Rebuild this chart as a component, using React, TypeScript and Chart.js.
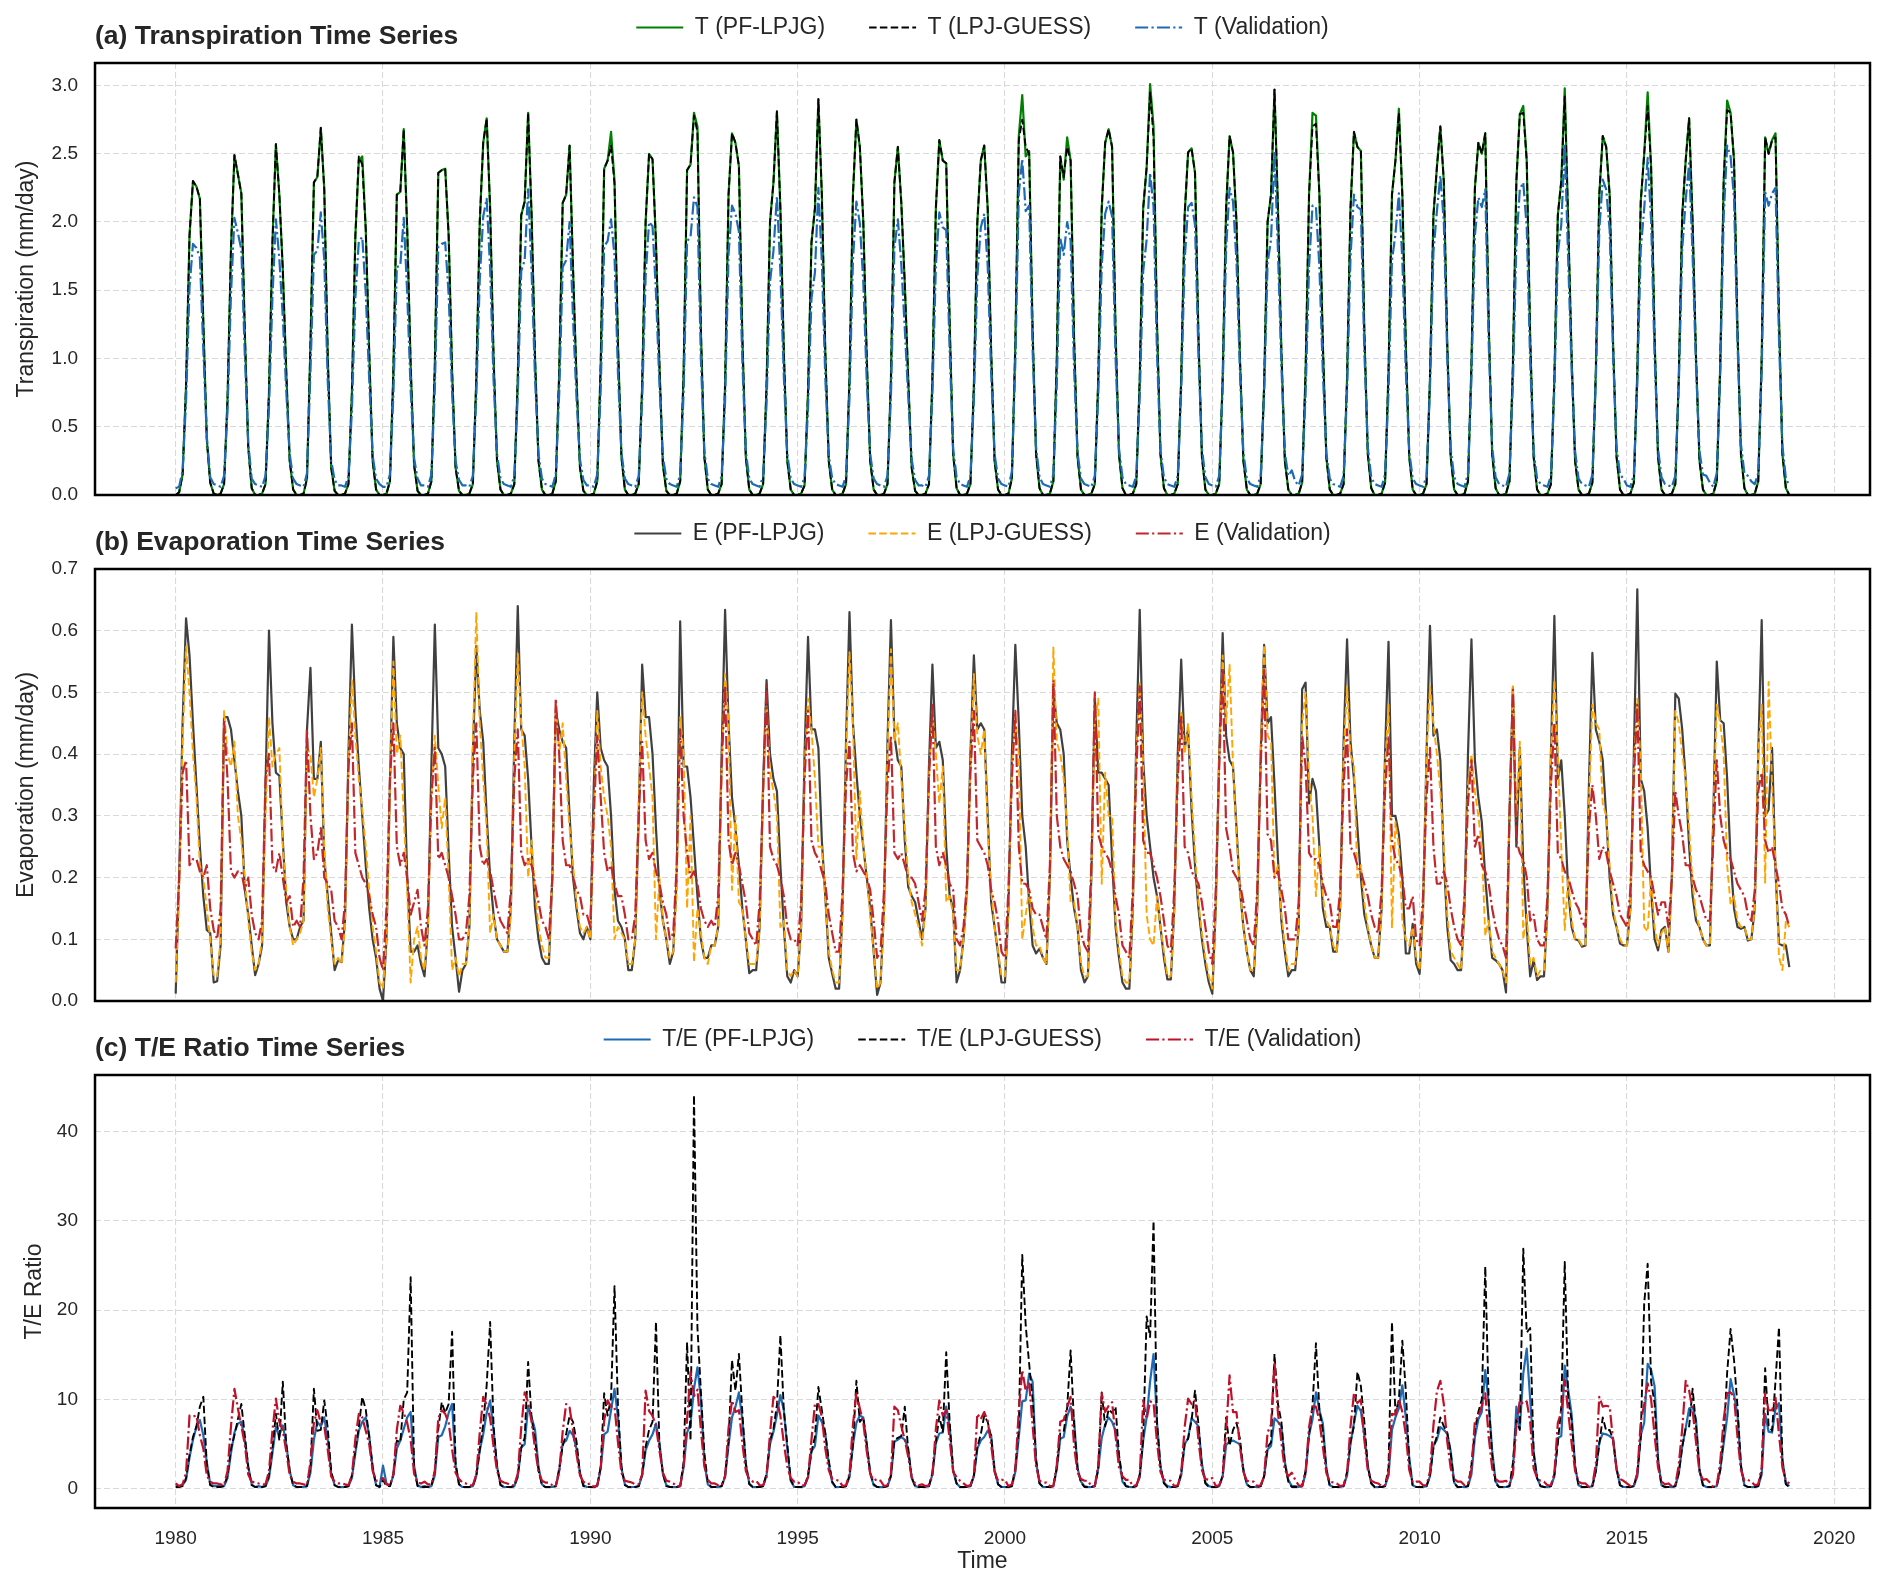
import React, { useEffect, useRef } from 'react';
import { Chart, registerables } from 'chart.js';

Chart.register(...registerables);

const FONT = '"Liberation Sans", Arial, Helvetica, sans-serif';
const TEXT = '#262626';
const GRID = '#d9d9d9';

const firstYear = 1980;
const yearTicks = [1980, 1985, 1990, 1995, 2000, 2005, 2010, 2015, 2020];
const tTicks = [0, 0.5, 1.0, 1.5, 2.0, 2.5, 3.0];
const eTicks = [0, 0.1, 0.2, 0.3, 0.4, 0.5, 0.6, 0.7];
const teTicks = [0, 10, 20, 30, 40];

// Monthly values, one row per year (Jan..Dec), 1980..2018
const tPF = [
  [0.00,0.02,0.15,0.80,1.90,2.30,2.26,2.17,1.26,0.41,0.09,0.01], // 1980
  [0.00,0.01,0.08,0.70,1.80,2.49,2.35,2.21,1.20,0.35,0.05,0.00],
  [0.00,0.01,0.08,0.75,1.85,2.57,2.20,1.65,0.90,0.25,0.04,0.00],
  [0.00,0.01,0.12,1.10,2.29,2.33,2.69,2.24,1.02,0.20,0.03,0.00],
  [0.00,0.01,0.08,0.75,1.90,2.45,2.48,1.95,1.05,0.25,0.04,0.00],
  [0.00,0.01,0.10,0.90,2.20,2.22,2.68,1.95,0.95,0.22,0.03,0.00], // 1985
  [0.00,0.01,0.10,0.95,2.36,2.38,2.39,1.90,0.90,0.20,0.03,0.00],
  [0.00,0.01,0.08,0.85,2.00,2.58,2.76,2.10,1.00,0.25,0.04,0.00],
  [0.00,0.01,0.08,0.85,2.05,2.15,2.80,2.05,1.00,0.25,0.04,0.00],
  [0.00,0.01,0.10,0.90,2.14,2.20,2.56,1.65,0.85,0.20,0.03,0.00],
  [0.00,0.01,0.10,0.95,2.39,2.45,2.66,2.30,1.10,0.28,0.04,0.00], // 1990
  [0.00,0.01,0.08,0.80,2.00,2.50,2.46,1.85,0.95,0.22,0.03,0.00],
  [0.00,0.01,0.10,0.90,2.38,2.42,2.80,2.70,1.20,0.28,0.04,0.00],
  [0.00,0.01,0.08,0.80,2.20,2.65,2.58,2.41,1.15,0.28,0.04,0.00],
  [0.00,0.01,0.08,0.80,2.00,2.29,2.81,2.10,1.05,0.25,0.04,0.00],
  [0.00,0.01,0.07,0.75,1.85,2.10,2.90,2.20,1.05,0.25,0.04,0.00], // 1995
  [0.00,0.01,0.08,0.85,2.20,2.75,2.55,2.00,1.00,0.25,0.04,0.00],
  [0.00,0.01,0.08,0.85,2.29,2.55,2.14,1.55,0.85,0.20,0.03,0.00],
  [0.00,0.01,0.08,0.85,2.10,2.60,2.45,2.43,1.25,0.30,0.05,0.00],
  [0.00,0.01,0.08,0.80,2.00,2.45,2.56,2.10,1.05,0.25,0.04,0.00],
  [0.00,0.01,0.12,1.10,2.63,2.93,2.48,2.52,1.20,0.30,0.05,0.00], // 2000
  [0.00,0.01,0.10,1.00,2.48,2.31,2.62,2.45,1.15,0.28,0.04,0.00],
  [0.00,0.01,0.08,0.85,2.10,2.58,2.68,2.55,1.20,0.30,0.05,0.00],
  [0.00,0.01,0.08,0.85,2.10,2.40,3.01,2.70,1.25,0.30,0.05,0.00],
  [0.00,0.01,0.08,0.85,2.05,2.51,2.54,2.36,1.15,0.28,0.04,0.00],
  [0.00,0.01,0.08,0.85,2.10,2.63,2.51,2.00,1.00,0.25,0.04,0.00], // 2005
  [0.00,0.01,0.08,0.80,2.00,2.20,2.97,2.10,1.05,0.25,0.04,0.00],
  [0.00,0.01,0.09,0.90,2.20,2.80,2.78,2.20,1.10,0.28,0.04,0.00],
  [0.00,0.01,0.08,0.85,2.10,2.66,2.55,2.52,1.20,0.30,0.05,0.00],
  [0.00,0.01,0.09,0.90,2.20,2.45,2.83,2.20,1.10,0.28,0.04,0.00],
  [0.00,0.01,0.08,0.85,2.05,2.40,2.70,2.30,1.10,0.28,0.04,0.00], // 2010
  [0.00,0.01,0.10,0.95,2.25,2.58,2.50,2.65,1.25,0.30,0.05,0.00],
  [0.00,0.01,0.10,0.95,2.30,2.79,2.85,2.45,1.15,0.28,0.04,0.00],
  [0.00,0.01,0.08,0.85,2.05,2.30,2.98,2.00,1.00,0.25,0.04,0.00],
  [0.00,0.01,0.09,0.90,2.20,2.63,2.55,2.20,1.10,0.28,0.04,0.00],
  [0.00,0.01,0.09,0.90,2.15,2.50,2.95,2.40,1.15,0.28,0.04,0.00], // 2015
  [0.00,0.01,0.08,0.85,2.05,2.45,2.76,2.00,1.00,0.25,0.04,0.00],
  [0.00,0.01,0.10,0.95,2.30,2.89,2.80,2.45,1.20,0.30,0.05,0.00],
  [0.00,0.01,0.10,1.00,2.62,2.50,2.60,2.65,1.30,0.30,0.05,0.00], // 2018
];

const tLPJ = [
  [0.00,0.02,0.15,0.80,1.90,2.30,2.26,2.17,1.26,0.41,0.09,0.01], // 1980
  [0.00,0.01,0.08,0.70,1.80,2.49,2.35,2.21,1.20,0.35,0.05,0.00],
  [0.00,0.01,0.08,0.75,1.85,2.57,2.20,1.65,0.90,0.25,0.04,0.00],
  [0.00,0.01,0.12,1.10,2.29,2.33,2.69,2.24,1.02,0.20,0.03,0.00],
  [0.00,0.01,0.08,0.75,1.90,2.48,2.42,1.95,1.05,0.25,0.04,0.00],
  [0.00,0.01,0.10,0.90,2.20,2.22,2.68,1.95,0.95,0.22,0.03,0.00], // 1985
  [0.00,0.01,0.10,0.95,2.36,2.38,2.39,1.90,0.90,0.20,0.03,0.00],
  [0.00,0.01,0.08,0.85,2.00,2.58,2.76,2.10,1.00,0.25,0.04,0.00],
  [0.00,0.01,0.08,0.85,2.05,2.15,2.80,2.05,1.00,0.25,0.04,0.00],
  [0.00,0.01,0.10,0.90,2.14,2.20,2.56,1.65,0.85,0.20,0.03,0.00],
  [0.00,0.01,0.10,0.95,2.39,2.45,2.56,2.28,1.10,0.28,0.04,0.00], // 1990
  [0.00,0.01,0.08,0.80,2.00,2.50,2.46,1.85,0.95,0.22,0.03,0.00],
  [0.00,0.01,0.10,0.90,2.38,2.42,2.78,2.66,1.20,0.28,0.04,0.00],
  [0.00,0.01,0.08,0.80,2.20,2.65,2.58,2.41,1.15,0.28,0.04,0.00],
  [0.00,0.01,0.08,0.80,2.00,2.29,2.81,2.10,1.05,0.25,0.04,0.00],
  [0.00,0.01,0.07,0.75,1.85,2.10,2.90,2.20,1.05,0.25,0.04,0.00], // 1995
  [0.00,0.01,0.08,0.85,2.20,2.75,2.55,2.00,1.00,0.25,0.04,0.00],
  [0.00,0.01,0.08,0.85,2.29,2.55,2.14,1.55,0.85,0.20,0.03,0.00],
  [0.00,0.01,0.08,0.85,2.10,2.60,2.45,2.43,1.25,0.30,0.05,0.00],
  [0.00,0.01,0.08,0.80,2.00,2.45,2.56,2.10,1.05,0.25,0.04,0.00],
  [0.00,0.01,0.12,1.10,2.60,2.75,2.55,2.50,1.20,0.30,0.05,0.00], // 2000
  [0.00,0.01,0.10,1.00,2.48,2.33,2.55,2.45,1.15,0.28,0.04,0.00],
  [0.00,0.01,0.08,0.85,2.10,2.58,2.68,2.55,1.20,0.30,0.05,0.00],
  [0.00,0.01,0.08,0.85,2.10,2.40,2.95,2.62,1.25,0.30,0.05,0.00],
  [0.00,0.01,0.08,0.85,2.05,2.51,2.54,2.36,1.15,0.28,0.04,0.00],
  [0.00,0.01,0.08,0.85,2.10,2.63,2.51,2.00,1.00,0.25,0.04,0.00], // 2005
  [0.00,0.01,0.08,0.80,2.00,2.20,2.97,2.10,1.05,0.25,0.04,0.00],
  [0.00,0.01,0.09,0.90,2.20,2.70,2.72,2.20,1.10,0.28,0.04,0.00],
  [0.00,0.01,0.08,0.85,2.10,2.66,2.55,2.52,1.20,0.30,0.05,0.00],
  [0.00,0.01,0.09,0.90,2.20,2.45,2.80,2.20,1.10,0.28,0.04,0.00],
  [0.00,0.01,0.08,0.85,2.05,2.40,2.70,2.30,1.10,0.28,0.04,0.00], // 2010
  [0.00,0.01,0.10,0.95,2.25,2.58,2.50,2.65,1.25,0.30,0.05,0.00],
  [0.00,0.01,0.10,0.95,2.30,2.79,2.80,2.45,1.15,0.28,0.04,0.00],
  [0.00,0.01,0.08,0.85,2.05,2.30,2.92,2.00,1.00,0.25,0.04,0.00],
  [0.00,0.01,0.09,0.90,2.20,2.63,2.55,2.20,1.10,0.28,0.04,0.00],
  [0.00,0.01,0.09,0.90,2.15,2.50,2.85,2.40,1.15,0.28,0.04,0.00], // 2015
  [0.00,0.01,0.08,0.85,2.05,2.45,2.76,2.00,1.00,0.25,0.04,0.00],
  [0.00,0.01,0.10,0.95,2.30,2.82,2.80,2.45,1.20,0.30,0.05,0.00],
  [0.00,0.01,0.10,1.00,2.62,2.50,2.60,2.62,1.30,0.30,0.05,0.00], // 2018
];

const tVal = [
  [0.05,0.06,0.18,0.69,1.52,1.84,1.81,1.74,1.06,0.43,0.13,0.08], // 1980
  [0.07,0.06,0.14,0.62,1.47,2.03,1.92,1.80,1.03,0.38,0.12,0.08],
  [0.07,0.06,0.14,0.64,1.45,2.02,1.73,1.30,0.76,0.30,0.12,0.08],
  [0.07,0.06,0.16,0.90,1.76,1.79,2.07,1.72,0.84,0.25,0.11,0.07],
  [0.07,0.06,0.14,0.62,1.45,1.86,1.89,1.48,0.85,0.29,0.12,0.08],
  [0.06,0.06,0.15,0.73,1.67,1.68,2.03,1.48,0.77,0.27,0.12,0.07], // 1985
  [0.07,0.06,0.15,0.78,1.82,1.84,1.85,1.47,0.74,0.25,0.11,0.07],
  [0.07,0.06,0.14,0.72,1.58,2.04,2.17,1.66,0.84,0.30,0.12,0.08],
  [0.07,0.06,0.14,0.73,1.64,1.72,2.24,1.64,0.85,0.30,0.12,0.08],
  [0.07,0.06,0.15,0.75,1.67,1.72,2.00,1.29,0.71,0.26,0.11,0.07],
  [0.07,0.06,0.15,0.77,1.82,1.86,2.02,1.75,0.89,0.31,0.12,0.08], // 1990
  [0.07,0.06,0.14,0.69,1.60,2.00,1.97,1.48,0.81,0.28,0.12,0.08],
  [0.07,0.06,0.15,0.75,1.86,1.89,2.18,2.11,0.99,0.32,0.12,0.08],
  [0.07,0.06,0.14,0.69,1.76,2.12,2.06,1.93,0.97,0.32,0.12,0.08],
  [0.07,0.06,0.14,0.67,1.56,1.79,2.19,1.64,0.87,0.30,0.12,0.08],
  [0.07,0.06,0.13,0.63,1.44,1.63,2.25,1.71,0.86,0.29,0.12,0.08], // 1995
  [0.07,0.06,0.14,0.71,1.72,2.15,1.99,1.56,0.83,0.30,0.12,0.08],
  [0.07,0.06,0.14,0.72,1.81,2.02,1.69,1.22,0.72,0.26,0.11,0.07],
  [0.07,0.06,0.14,0.73,1.68,2.07,1.96,1.94,1.05,0.34,0.13,0.08],
  [0.07,0.06,0.14,0.69,1.60,1.96,2.06,1.68,0.89,0.30,0.12,0.08],
  [0.07,0.06,0.17,0.97,2.21,2.46,2.08,2.12,1.06,0.35,0.13,0.08], // 2000
  [0.07,0.06,0.15,0.81,1.88,1.76,2.00,1.86,0.92,0.31,0.12,0.08],
  [0.07,0.06,0.14,0.73,1.68,2.06,2.15,2.04,1.01,0.34,0.13,0.08],
  [0.07,0.06,0.14,0.72,1.64,1.87,2.36,2.11,1.03,0.33,0.13,0.08],
  [0.07,0.06,0.14,0.76,1.72,2.11,2.14,1.98,1.02,0.34,0.13,0.08],
  [0.07,0.06,0.14,0.78,1.80,2.25,2.15,1.71,0.90,0.31,0.12,0.08], // 2005
  [0.07,0.06,0.14,0.73,1.70,1.87,2.52,1.79,0.94,0.31,0.14,0.18],
  [0.10,0.07,0.15,0.73,1.67,2.12,2.11,1.67,0.89,0.31,0.12,0.08],
  [0.07,0.06,0.14,0.76,1.74,2.20,2.11,2.09,1.05,0.35,0.13,0.08],
  [0.07,0.06,0.15,0.75,1.72,1.91,2.21,1.72,0.91,0.32,0.12,0.08],
  [0.07,0.06,0.14,0.79,1.78,2.08,2.34,2.00,1.01,0.34,0.13,0.08], // 2010
  [0.07,0.06,0.16,0.85,1.90,2.18,2.11,2.24,1.11,0.35,0.13,0.08],
  [0.07,0.06,0.16,0.81,1.84,2.24,2.29,1.96,0.97,0.32,0.12,0.08],
  [0.07,0.06,0.14,0.78,1.77,1.98,2.57,1.72,0.91,0.32,0.12,0.08],
  [0.07,0.06,0.15,0.84,1.94,2.31,2.24,1.94,1.02,0.35,0.15,0.12],
  [0.07,0.06,0.15,0.81,1.80,2.10,2.47,2.01,1.02,0.34,0.13,0.08], // 2015
  [0.07,0.06,0.14,0.80,1.80,2.16,2.43,1.76,0.93,0.32,0.15,0.14],
  [0.09,0.06,0.16,0.89,2.04,2.56,2.48,2.17,1.11,0.37,0.16,0.14],
  [0.10,0.08,0.16,0.90,2.22,2.12,2.21,2.25,1.15,0.36,0.12,0.07], // 2018
];

const ePF = [
  [0.012,0.20,0.45,0.62,0.56,0.45,0.35,0.25,0.17,0.115,0.11,0.03], // 1980
  [0.032,0.09,0.46,0.46,0.44,0.39,0.34,0.30,0.18,0.14,0.09,0.042],
  [0.06,0.09,0.35,0.60,0.45,0.37,0.365,0.26,0.16,0.12,0.10,0.10],
  [0.12,0.13,0.44,0.54,0.36,0.36,0.42,0.23,0.17,0.11,0.05,0.066],
  [0.063,0.13,0.40,0.61,0.47,0.38,0.30,0.22,0.15,0.10,0.07,0.02],
  [0.00,0.10,0.35,0.59,0.45,0.41,0.40,0.20,0.08,0.08,0.09,0.06], // 1985
  [0.04,0.12,0.38,0.61,0.41,0.40,0.38,0.24,0.12,0.07,0.015,0.05],
  [0.06,0.12,0.40,0.575,0.47,0.42,0.30,0.20,0.14,0.10,0.09,0.08],
  [0.08,0.15,0.42,0.64,0.44,0.43,0.36,0.25,0.15,0.10,0.07,0.06],
  [0.06,0.20,0.47,0.44,0.42,0.41,0.30,0.20,0.15,0.11,0.10,0.12],
  [0.10,0.35,0.50,0.41,0.39,0.38,0.30,0.18,0.13,0.12,0.10,0.05], // 1990
  [0.05,0.10,0.30,0.545,0.46,0.46,0.40,0.28,0.18,0.13,0.10,0.06],
  [0.08,0.20,0.615,0.38,0.38,0.33,0.25,0.17,0.10,0.07,0.07,0.09],
  [0.09,0.12,0.40,0.634,0.45,0.33,0.28,0.22,0.15,0.10,0.045,0.05],
  [0.05,0.12,0.35,0.52,0.40,0.36,0.34,0.22,0.12,0.04,0.03,0.05],
  [0.04,0.12,0.40,0.59,0.44,0.44,0.41,0.26,0.17,0.07,0.044,0.02], // 1995
  [0.02,0.15,0.42,0.63,0.45,0.37,0.30,0.25,0.20,0.15,0.08,0.01],
  [0.03,0.15,0.42,0.617,0.43,0.39,0.38,0.26,0.185,0.17,0.16,0.13],
  [0.10,0.15,0.38,0.545,0.41,0.42,0.39,0.25,0.17,0.15,0.03,0.05],
  [0.10,0.18,0.40,0.56,0.44,0.45,0.44,0.30,0.16,0.12,0.077,0.03],
  [0.03,0.15,0.40,0.577,0.45,0.30,0.25,0.16,0.09,0.077,0.085,0.07], // 2000
  [0.06,0.20,0.506,0.45,0.44,0.40,0.26,0.20,0.15,0.12,0.05,0.03],
  [0.04,0.20,0.49,0.37,0.37,0.36,0.35,0.23,0.12,0.07,0.03,0.02],
  [0.02,0.15,0.42,0.634,0.39,0.30,0.25,0.20,0.17,0.12,0.07,0.035],
  [0.035,0.15,0.40,0.553,0.41,0.44,0.31,0.22,0.15,0.10,0.06,0.03],
  [0.012,0.15,0.40,0.596,0.43,0.39,0.38,0.28,0.18,0.12,0.08,0.05], // 2005
  [0.04,0.15,0.40,0.577,0.45,0.46,0.35,0.23,0.13,0.08,0.04,0.05],
  [0.05,0.12,0.505,0.516,0.32,0.36,0.34,0.25,0.15,0.12,0.12,0.08],
  [0.08,0.15,0.42,0.586,0.42,0.36,0.28,0.20,0.14,0.115,0.09,0.07],
  [0.07,0.15,0.40,0.582,0.30,0.30,0.27,0.20,0.077,0.077,0.125,0.06],
  [0.044,0.15,0.40,0.608,0.43,0.44,0.39,0.23,0.12,0.066,0.06,0.05], // 2010
  [0.05,0.15,0.40,0.586,0.39,0.33,0.29,0.20,0.13,0.07,0.066,0.06],
  [0.05,0.014,0.30,0.508,0.25,0.41,0.22,0.12,0.04,0.066,0.034,0.04],
  [0.04,0.15,0.40,0.624,0.36,0.39,0.30,0.18,0.12,0.10,0.098,0.088],
  [0.09,0.35,0.564,0.44,0.42,0.39,0.30,0.20,0.14,0.12,0.093,0.09],
  [0.09,0.15,0.40,0.667,0.36,0.34,0.28,0.18,0.10,0.082,0.115,0.12], // 2015
  [0.08,0.20,0.498,0.49,0.44,0.36,0.25,0.17,0.13,0.12,0.10,0.09],
  [0.09,0.30,0.55,0.455,0.45,0.36,0.23,0.15,0.12,0.117,0.12,0.098],
  [0.10,0.15,0.40,0.617,0.30,0.31,0.41,0.21,0.093,0.09,0.09,0.055], // 2018
];

const eLPJ = [
  [0.03,0.18,0.42,0.574,0.50,0.40,0.33,0.22,0.20,0.15,0.10,0.04], // 1980
  [0.04,0.10,0.47,0.40,0.38,0.42,0.30,0.26,0.20,0.13,0.08,0.05],
  [0.06,0.10,0.30,0.46,0.38,0.40,0.41,0.25,0.18,0.12,0.09,0.10],
  [0.11,0.13,0.41,0.40,0.33,0.36,0.41,0.25,0.15,0.10,0.06,0.07],
  [0.06,0.12,0.38,0.52,0.43,0.36,0.31,0.25,0.18,0.12,0.08,0.03],
  [0.02,0.10,0.34,0.55,0.40,0.43,0.30,0.18,0.03,0.10,0.12,0.07], // 1985
  [0.05,0.12,0.33,0.43,0.35,0.28,0.33,0.20,0.05,0.07,0.04,0.06],
  [0.06,0.12,0.42,0.63,0.45,0.36,0.28,0.11,0.14,0.10,0.09,0.08],
  [0.08,0.14,0.40,0.563,0.45,0.38,0.20,0.26,0.18,0.12,0.09,0.07],
  [0.07,0.20,0.48,0.40,0.45,0.36,0.28,0.22,0.16,0.12,0.11,0.12],
  [0.10,0.30,0.47,0.38,0.33,0.30,0.25,0.10,0.12,0.11,0.10,0.06], // 1990
  [0.06,0.10,0.32,0.50,0.43,0.38,0.33,0.10,0.20,0.13,0.10,0.07],
  [0.08,0.18,0.46,0.40,0.15,0.30,0.063,0.15,0.11,0.07,0.06,0.09],
  [0.09,0.12,0.38,0.53,0.45,0.18,0.30,0.16,0.15,0.10,0.06,0.06],
  [0.06,0.12,0.34,0.48,0.37,0.34,0.30,0.12,0.13,0.05,0.04,0.05],
  [0.04,0.12,0.38,0.49,0.44,0.36,0.25,0.25,0.17,0.08,0.05,0.03], // 1995
  [0.03,0.14,0.40,0.565,0.45,0.23,0.34,0.25,0.20,0.14,0.08,0.02],
  [0.03,0.14,0.40,0.57,0.42,0.45,0.36,0.28,0.20,0.16,0.14,0.12],
  [0.09,0.15,0.36,0.47,0.40,0.32,0.38,0.16,0.17,0.14,0.05,0.05],
  [0.10,0.17,0.38,0.53,0.43,0.40,0.44,0.28,0.18,0.12,0.08,0.04],
  [0.04,0.15,0.38,0.46,0.40,0.10,0.14,0.18,0.12,0.09,0.09,0.07], // 2000
  [0.06,0.20,0.573,0.42,0.40,0.36,0.28,0.16,0.16,0.12,0.06,0.04],
  [0.04,0.20,0.45,0.49,0.19,0.37,0.30,0.30,0.13,0.08,0.04,0.03],
  [0.03,0.15,0.40,0.515,0.38,0.14,0.10,0.09,0.17,0.12,0.08,0.04],
  [0.04,0.15,0.38,0.47,0.40,0.45,0.33,0.24,0.16,0.11,0.07,0.04],
  [0.02,0.15,0.40,0.56,0.45,0.545,0.38,0.27,0.18,0.12,0.08,0.05], // 2005
  [0.05,0.15,0.40,0.577,0.43,0.42,0.20,0.22,0.14,0.09,0.05,0.06],
  [0.06,0.12,0.45,0.50,0.36,0.30,0.17,0.25,0.17,0.13,0.12,0.09],
  [0.08,0.15,0.40,0.51,0.40,0.38,0.20,0.22,0.16,0.12,0.09,0.07],
  [0.07,0.15,0.38,0.48,0.118,0.29,0.25,0.13,0.10,0.09,0.12,0.07],
  [0.05,0.15,0.40,0.51,0.45,0.40,0.34,0.25,0.14,0.08,0.07,0.06], // 2010
  [0.05,0.15,0.35,0.40,0.34,0.30,0.25,0.106,0.13,0.08,0.07,0.06],
  [0.05,0.03,0.30,0.51,0.30,0.42,0.10,0.14,0.06,0.07,0.04,0.05],
  [0.05,0.15,0.40,0.52,0.40,0.25,0.115,0.20,0.13,0.10,0.10,0.09],
  [0.09,0.32,0.48,0.45,0.44,0.32,0.30,0.22,0.15,0.12,0.10,0.09],
  [0.09,0.15,0.38,0.49,0.38,0.12,0.113,0.20,0.12,0.09,0.11,0.12], // 2015
  [0.08,0.20,0.47,0.45,0.40,0.36,0.28,0.19,0.14,0.12,0.10,0.09],
  [0.09,0.30,0.48,0.45,0.40,0.22,0.156,0.17,0.13,0.12,0.12,0.10],
  [0.10,0.15,0.40,0.48,0.19,0.517,0.35,0.22,0.072,0.05,0.13,0.12], // 2018
];

const eVal = [
  [0.085,0.20,0.37,0.39,0.22,0.23,0.23,0.21,0.20,0.22,0.15,0.115], // 1980
  [0.10,0.15,0.455,0.36,0.21,0.20,0.21,0.21,0.18,0.20,0.14,0.11],
  [0.10,0.13,0.36,0.40,0.22,0.21,0.24,0.20,0.16,0.17,0.12,0.13],
  [0.12,0.20,0.44,0.30,0.23,0.24,0.28,0.20,0.19,0.18,0.13,0.12],
  [0.10,0.16,0.38,0.45,0.24,0.22,0.20,0.19,0.17,0.14,0.12,0.07],
  [0.05,0.15,0.36,0.45,0.25,0.22,0.24,0.20,0.14,0.16,0.18,0.12], // 1985
  [0.09,0.15,0.33,0.41,0.23,0.24,0.22,0.20,0.17,0.14,0.10,0.10],
  [0.11,0.17,0.36,0.45,0.25,0.22,0.23,0.21,0.18,0.15,0.13,0.12],
  [0.11,0.18,0.36,0.44,0.24,0.22,0.23,0.22,0.19,0.16,0.13,0.12],
  [0.10,0.20,0.49,0.40,0.26,0.22,0.22,0.20,0.18,0.17,0.14,0.14],
  [0.12,0.30,0.43,0.33,0.24,0.21,0.22,0.19,0.17,0.17,0.14,0.10], // 1990
  [0.10,0.14,0.30,0.42,0.26,0.23,0.24,0.21,0.19,0.16,0.14,0.10],
  [0.11,0.22,0.44,0.30,0.24,0.20,0.21,0.19,0.15,0.13,0.12,0.13],
  [0.12,0.17,0.38,0.51,0.26,0.22,0.24,0.22,0.19,0.16,0.11,0.10],
  [0.09,0.16,0.34,0.51,0.25,0.23,0.22,0.20,0.17,0.12,0.10,0.10],
  [0.09,0.16,0.36,0.47,0.26,0.24,0.23,0.21,0.19,0.14,0.11,0.08], // 1995
  [0.08,0.18,0.35,0.42,0.24,0.21,0.22,0.21,0.20,0.18,0.13,0.07],
  [0.08,0.18,0.35,0.43,0.24,0.23,0.24,0.22,0.20,0.20,0.19,0.16],
  [0.13,0.18,0.36,0.48,0.25,0.22,0.24,0.22,0.19,0.18,0.10,0.09],
  [0.12,0.19,0.37,0.47,0.26,0.25,0.24,0.22,0.18,0.16,0.13,0.08],
  [0.07,0.18,0.36,0.47,0.25,0.19,0.19,0.18,0.15,0.14,0.14,0.12], // 2000
  [0.10,0.22,0.52,0.30,0.25,0.23,0.22,0.21,0.19,0.17,0.11,0.09],
  [0.08,0.22,0.50,0.27,0.25,0.24,0.23,0.21,0.17,0.14,0.09,0.08],
  [0.07,0.18,0.37,0.51,0.26,0.24,0.24,0.22,0.20,0.17,0.13,0.09],
  [0.08,0.18,0.36,0.46,0.25,0.24,0.21,0.20,0.19,0.16,0.12,0.08],
  [0.06,0.18,0.38,0.54,0.28,0.25,0.21,0.20,0.19,0.16,0.13,0.10], // 2005
  [0.09,0.18,0.38,0.536,0.27,0.26,0.20,0.21,0.18,0.15,0.10,0.10],
  [0.10,0.16,0.43,0.38,0.24,0.23,0.23,0.22,0.19,0.17,0.16,0.12],
  [0.12,0.18,0.35,0.44,0.25,0.24,0.22,0.21,0.19,0.17,0.14,0.12],
  [0.11,0.18,0.34,0.43,0.26,0.23,0.22,0.20,0.15,0.15,0.17,0.10],
  [0.09,0.17,0.33,0.41,0.25,0.19,0.19,0.21,0.19,0.15,0.12,0.10], // 2010
  [0.09,0.17,0.32,0.39,0.25,0.27,0.22,0.21,0.19,0.15,0.12,0.10],
  [0.09,0.07,0.30,0.504,0.26,0.24,0.23,0.20,0.13,0.14,0.10,0.09],
  [0.09,0.17,0.35,0.45,0.24,0.23,0.21,0.20,0.18,0.16,0.15,0.13],
  [0.12,0.28,0.35,0.30,0.23,0.25,0.24,0.21,0.19,0.17,0.14,0.13],
  [0.12,0.18,0.36,0.48,0.24,0.22,0.21,0.20,0.17,0.14,0.16,0.16], // 2015
  [0.12,0.20,0.34,0.30,0.27,0.22,0.22,0.20,0.18,0.17,0.15,0.13],
  [0.13,0.26,0.39,0.30,0.26,0.24,0.23,0.21,0.19,0.18,0.17,0.14],
  [0.13,0.18,0.34,0.37,0.26,0.24,0.25,0.22,0.19,0.15,0.14,0.12], // 2018
];

const tePF = [
  [0.3,0.3,0.4,1.0,3.5,5.5,6.9,7.7,6.0,3.0,0.5,0.3], // 1980
  [0.3,0.3,0.3,1.2,4.0,6.3,7.3,7.5,5.5,2.5,0.5,0.2],
  [0.3,0.2,0.3,1.2,4.0,6.9,6.0,7.1,5.0,2.0,0.4,0.2],
  [0.2,0.2,0.3,1.8,5.5,7.5,7.0,8.0,5.5,1.8,0.4,0.2],
  [0.2,0.2,0.3,1.2,4.0,6.5,7.5,8.0,6.0,2.3,0.4,0.2],
  [2.6,0.6,0.3,1.5,4.5,5.4,6.7,8.0,8.6,2.6,0.4,0.2], // 1985
  [0.3,0.2,0.3,1.5,5.8,6.0,7.0,8.5,9.5,2.6,0.5,0.2],
  [0.2,0.2,0.3,1.5,4.3,6.1,8.5,9.9,6.5,2.5,0.5,0.2],
  [0.2,0.2,0.3,1.3,4.6,5.0,9.3,8.0,6.6,2.5,0.5,0.2],
  [0.2,0.2,0.3,2.0,5.1,5.4,6.5,6.0,4.5,1.8,0.4,0.2],
  [0.2,0.2,0.3,2.3,6.1,6.4,8.8,11.2,8.0,2.3,0.5,0.2], // 1990
  [0.2,0.2,0.3,1.5,4.3,5.4,6.1,7.3,5.2,1.7,0.4,0.2],
  [0.2,0.2,0.3,2.4,6.3,7.3,11.2,13.6,10.0,3.0,0.5,0.2],
  [0.2,0.2,0.3,1.3,4.9,8.0,9.2,10.8,7.7,2.8,0.6,0.2],
  [0.2,0.2,0.3,1.5,5.0,6.4,8.3,10.5,8.8,4.5,0.9,0.2],
  [0.2,0.2,0.3,1.3,4.2,4.8,8.2,7.5,6.2,2.8,0.7,0.2], // 1995
  [0.2,0.2,0.3,1.3,4.9,7.4,8.2,8.0,5.0,1.7,0.4,0.2],
  [0.2,0.2,0.3,1.4,5.3,5.5,5.8,5.5,4.5,1.2,0.3,0.2],
  [0.2,0.2,0.3,1.6,5.1,6.2,6.3,9.2,7.0,2.0,0.6,0.2],
  [0.2,0.2,0.3,1.4,4.5,5.4,5.8,6.5,6.0,2.0,0.5,0.2],
  [0.2,0.2,0.3,1.9,5.8,9.8,9.9,12.9,12.0,3.0,0.6,0.2], // 2000
  [0.2,0.2,0.3,2.2,5.6,5.8,8.1,9.2,7.7,2.3,0.8,0.3],
  [0.2,0.2,0.3,2.3,5.7,7.2,8.0,7.5,6.5,3.5,0.8,0.3],
  [0.2,0.2,0.3,1.3,5.4,8.0,12.0,15.1,7.4,2.5,0.7,0.3],
  [0.2,0.2,0.3,1.5,5.0,5.7,7.9,7.5,7.0,2.8,0.7,0.3],
  [0.2,0.2,0.3,1.4,4.9,5.3,5.4,5.2,5.0,2.1,0.5,0.2], // 2005
  [0.2,0.2,0.3,1.4,4.4,4.8,7.9,7.5,7.0,3.0,1.0,0.3],
  [0.3,0.2,0.3,1.7,6.0,7.8,10.8,8.8,7.3,2.3,0.4,0.2],
  [0.2,0.2,0.3,1.5,5.0,7.4,9.3,8.7,6.0,2.6,0.6,0.2],
  [0.2,0.2,0.3,1.5,6.6,8.0,9.0,11.6,8.0,3.5,0.4,0.2],
  [0.2,0.2,0.3,1.4,4.8,5.5,6.9,6.6,6.2,4.2,0.7,0.2], // 2010
  [0.2,0.2,0.3,1.6,5.8,7.8,8.6,13.3,9.6,4.3,0.8,0.2],
  [0.2,0.2,0.3,1.9,9.2,6.8,12.9,15.7,10.0,4.2,1.2,0.3],
  [0.2,0.2,0.3,1.4,5.7,5.9,13.8,11.1,8.3,2.5,0.4,0.2],
  [0.2,0.2,0.3,2.0,5.2,6.2,6.1,5.9,5.6,2.3,0.4,0.2],
  [0.2,0.2,0.3,1.4,6.0,7.4,14.0,13.3,11.5,3.4,0.4,0.2], // 2015
  [0.2,0.2,0.3,1.7,4.7,6.8,9.0,9.2,7.7,2.1,0.4,0.2],
  [0.2,0.2,0.3,2.1,5.1,8.0,12.3,10.5,8.3,2.6,0.4,0.2],
  [0.2,0.2,0.3,1.6,8.4,6.4,6.3,9.0,9.6,3.3,0.6,0.3], // 2018
];

const teLPJ = [
  [0.2,0.2,0.3,1.2,3.8,5.8,7.0,9.2,10.3,2.7,0.4,0.2], // 1980
  [0.2,0.2,0.3,1.5,4.5,6.0,7.8,9.5,6.0,2.4,0.4,0.2],
  [0.2,0.2,0.3,1.5,4.5,8.4,5.4,12.0,5.0,2.0,0.4,0.2],
  [0.2,0.2,0.3,2.3,11.2,6.5,6.6,9.9,6.8,2.0,0.4,0.2],
  [0.2,0.2,0.3,1.5,4.4,6.9,10.3,8.9,5.8,2.5,0.4,0.2],
  [1.0,0.3,0.3,1.6,5.4,5.2,10.0,10.8,23.7,2.2,0.3,0.2], // 1985
  [0.2,0.2,0.3,2.0,6.7,9.7,8.5,9.5,17.6,2.9,0.5,0.2],
  [0.2,0.2,0.3,1.4,4.4,7.2,11.6,18.7,7.0,2.5,0.4,0.2],
  [0.2,0.2,0.3,1.5,4.6,5.7,14.2,7.9,5.6,2.1,0.4,0.2],
  [0.2,0.2,0.3,2.3,4.8,6.1,8.2,7.5,5.3,1.7,0.3,0.2],
  [0.2,0.2,0.3,2.5,10.7,8.2,10.2,22.7,9.2,2.5,0.4,0.2], // 1990
  [0.2,0.2,0.3,1.6,4.7,6.6,7.5,18.7,4.8,1.7,0.3,0.2],
  [0.2,0.2,0.3,3.0,16.4,5.4,44.1,18.0,10.9,4.0,0.7,0.2],
  [0.2,0.2,0.3,1.5,5.3,14.4,11.0,15.1,8.5,2.8,0.5,0.2],
  [0.2,0.2,0.3,1.7,5.4,6.7,9.4,17.2,8.8,5.0,1.0,0.2],
  [0.2,0.2,0.3,1.5,4.2,5.8,11.4,8.8,6.2,3.2,0.8,0.2], // 1995
  [0.2,0.2,0.3,1.5,4.9,12.1,7.5,8.0,5.0,1.8,0.5,0.2],
  [0.2,0.2,0.3,1.5,5.5,5.7,5.9,9.2,4.3,1.3,0.3,0.2],
  [0.2,0.2,0.3,1.8,5.3,8.1,6.4,15.3,7.4,2.1,0.6,0.2],
  [0.2,0.2,0.3,1.5,4.7,6.1,8.2,7.5,5.8,2.1,0.5,0.2],
  [0.2,0.2,0.3,2.4,6.6,26.2,18.3,14.0,10.0,3.3,0.6,0.2], // 2000
  [0.2,0.2,0.3,2.4,6.2,6.4,9.1,15.5,7.2,2.3,0.7,0.2],
  [0.2,0.2,0.3,2.2,10.8,7.0,8.9,8.5,9.2,3.8,1.2,0.3],
  [0.2,0.2,0.3,1.6,5.5,19.3,17.0,30.0,7.4,2.5,0.6,0.2],
  [0.2,0.2,0.3,1.8,5.1,5.6,7.7,11.0,7.2,2.5,0.6,0.2],
  [0.2,0.2,0.3,1.5,8.0,4.8,6.6,7.4,5.6,2.1,0.5,0.2], // 2005
  [0.2,0.2,0.3,1.4,4.7,5.2,15.1,9.5,7.5,2.8,0.8,0.2],
  [0.2,0.2,0.3,2.0,6.1,9.3,16.3,8.8,6.5,2.2,0.3,0.2],
  [0.2,0.2,0.3,1.9,5.3,7.0,13.1,11.5,7.5,2.5,0.6,0.2],
  [0.2,0.2,0.3,2.4,18.7,8.4,10.0,16.6,11.0,3.1,0.3,0.2],
  [0.2,0.2,0.3,1.5,4.6,5.9,8.0,7.0,6.3,4.0,0.6,0.2], // 2010
  [0.2,0.2,0.3,2.7,6.6,8.6,10.0,24.9,9.6,3.8,0.6,0.2],
  [0.2,0.2,0.3,2.9,7.7,6.6,26.9,17.5,18.0,4.0,1.2,0.3],
  [0.2,0.2,0.3,1.6,5.1,9.2,25.4,10.0,7.7,2.5,0.4,0.2],
  [0.2,0.2,0.3,2.0,5.0,8.0,6.5,6.6,5.5,2.2,0.4,0.2],
  [0.2,0.2,0.3,1.8,5.7,20.8,25.2,12.0,9.6,3.0,0.4,0.2], // 2015
  [0.2,0.2,0.3,1.8,4.7,6.8,7.0,11.2,7.1,2.1,0.4,0.2],
  [0.2,0.2,0.3,2.1,5.8,13.0,17.9,14.4,9.2,2.5,0.4,0.2],
  [0.2,0.2,0.3,2.0,13.5,7.1,6.5,12.1,18.1,3.0,0.5,0.2], // 2018
];

const teVal = [
  [0.6,0.3,0.5,1.8,8.2,8.1,8.2,6.0,4.5,1.5,0.8,0.6], // 1980
  [0.6,0.5,0.4,2.0,7.0,11.2,9.0,7.0,5.0,1.6,0.8,0.7],
  [0.6,0.5,0.5,2.0,6.5,10.1,7.5,6.5,4.2,1.5,0.8,0.6],
  [0.6,0.5,0.4,3.0,7.4,8.8,7.4,7.0,4.4,1.4,0.8,0.6],
  [0.6,0.5,0.4,1.5,5.6,8.4,8.0,6.5,5.0,2.0,0.9,1.0],
  [1.2,0.5,0.4,1.6,6.6,9.3,8.5,7.4,5.5,1.7,0.7,0.6], // 1985
  [0.8,0.5,0.5,2.0,7.9,8.8,8.4,7.4,4.4,1.8,1.1,0.7],
  [0.6,0.4,0.4,1.6,6.3,10.3,9.4,7.9,4.7,2.0,0.9,0.7],
  [0.6,0.4,0.4,1.7,6.8,10.8,9.7,7.5,4.5,1.9,0.9,0.7],
  [0.7,0.4,0.3,1.9,6.4,9.5,9.1,6.5,3.9,1.5,0.8,0.5],
  [0.6,0.2,0.4,2.3,7.6,9.9,9.2,9.2,5.2,1.8,0.9,0.8], // 1990
  [0.7,0.5,0.5,1.6,11.0,8.7,8.2,7.0,4.3,1.8,0.9,0.8],
  [0.6,0.3,0.3,2.5,7.8,13.1,10.4,11.1,6.6,2.5,1.0,0.6],
  [0.6,0.4,0.4,1.4,6.8,9.9,8.6,8.8,5.1,2.0,1.1,0.8],
  [0.9,0.4,0.4,1.3,6.2,10.3,9.9,8.2,5.1,2.5,1.2,0.8],
  [0.8,0.4,0.4,1.3,5.5,9.5,9.5,8.1,4.5,2.1,1.1,1.0], // 1995
  [0.9,0.3,0.4,1.7,7.2,10.7,9.0,7.4,4.2,1.7,0.9,1.1],
  [0.9,0.3,0.4,1.7,9.2,8.8,7.0,5.5,3.6,1.3,0.6,0.4],
  [0.5,0.3,0.4,1.5,6.7,9.9,8.2,8.8,5.5,1.9,1.3,0.9],
  [0.6,0.3,0.4,1.5,8.4,7.8,8.6,7.6,4.9,1.9,0.9,1.0],
  [1.0,0.3,0.5,2.1,8.8,13.3,11.0,11.8,7.1,2.5,0.9,0.7], // 2000
  [0.7,0.3,0.3,2.7,7.5,7.7,9.1,10.3,4.8,1.8,1.1,0.9],
  [0.9,0.3,0.3,2.7,10.7,8.6,9.3,9.7,5.9,2.4,1.4,1.0],
  [1.0,0.3,0.4,1.4,9.9,7.8,9.8,9.6,5.2,1.9,1.0,0.9],
  [0.9,0.3,0.4,1.7,6.9,10.1,9.5,9.9,5.4,2.1,1.1,1.0],
  [1.2,0.3,0.4,1.4,6.4,12.7,8.6,8.6,4.7,1.9,0.9,0.8], // 2005
  [0.8,0.3,0.4,1.4,6.3,7.2,14.2,8.5,5.2,2.1,1.4,1.8],
  [1.0,0.4,0.3,1.9,6.9,9.2,9.2,7.6,4.7,1.8,0.8,0.7],
  [0.6,0.3,0.4,1.7,7.0,10.7,9.6,10.0,5.5,2.1,0.9,0.7],
  [0.6,0.3,0.4,1.7,8.4,8.3,10.0,8.6,6.1,2.1,0.7,0.8],
  [0.8,0.4,0.4,1.9,7.1,10.9,12.1,9.5,5.3,2.3,1.1,0.8], // 2010
  [0.8,0.4,0.5,2.2,7.6,8.1,9.3,10.7,5.8,2.3,1.1,0.8],
  [0.8,0.9,0.5,1.6,7.1,9.9,9.5,9.8,7.5,2.3,1.2,0.9],
  [0.8,0.4,0.4,1.7,7.4,8.6,12.2,8.6,5.1,2.0,0.8,0.6],
  [0.6,0.2,0.4,2.8,10.3,9.2,9.3,9.2,5.4,2.1,1.1,0.9],
  [0.6,0.3,0.4,1.7,7.5,9.5,11.8,10.0,6.0,2.4,0.8,0.5], // 2015
  [0.6,0.3,0.4,2.7,6.7,12.1,11.0,8.8,5.2,1.9,1.0,1.1],
  [0.7,0.2,0.4,3.0,7.8,10.7,10.8,10.3,5.8,2.1,0.9,1.0],
  [0.8,0.4,0.5,2.4,10.7,8.8,8.8,10.2,6.1,2.4,0.9,0.6], // 2018
];

// ---------------- rendering ----------------
const X_MIN = 1978.054;
const X_MAX = 2020.862;

function toPoints(rows: number[][]) {
  return rows.flat().map((y, i) => ({ x: firstYear + i / 12, y }));
}

const framePlugin = {
  id: 'frame',
  afterDraw(chart: any) {
    const { ctx, chartArea: a } = chart;
    ctx.save();
    ctx.strokeStyle = '#000000';
    ctx.lineWidth = 2.5;
    ctx.strokeRect(a.left, a.top, a.right - a.left, a.bottom - a.top);
    ctx.restore();
  },
};

const titlePlugin = {
  id: 'panelTitle',
  afterDraw(chart: any, _args: any, opts: any) {
    const { ctx, chartArea: a } = chart;
    ctx.save();
    ctx.font = `bold 26.5px ${FONT}`;
    ctx.fillStyle = TEXT;
    ctx.textAlign = 'left';
    ctx.textBaseline = 'alphabetic';
    ctx.fillText(opts.text, a.left, a.top - 19);
    ctx.restore();
  },
};

type SetSpec = { label: string; rows: number[][]; color: string; width: number; dash: number[] };
type PanelSpec = {
  title: string; yLabel: string; yMin: number; yMax: number; yTicks: number[];
  fmt: (v: number) => string; yTitlePad: number; showX: boolean; xHeight: number; padBottom: number;
  sets: SetSpec[];
};

const DASH = [7.5, 3.3];
const DASHDOT = [13, 3.3, 2.2, 3.3];

const panels: PanelSpec[] = [
  {
    title: '(a) Transpiration Time Series', yLabel: 'Transpiration (mm/day)',
    yMin: 0, yMax: 3.165, yTicks: tTicks, fmt: (v) => v.toFixed(1), yTitlePad: 12.7,
    showX: false, xHeight: 0, padBottom: 17,
    sets: [
      { label: 'T (PF-LPJG)', rows: tPF, color: '#008000', width: 2.2, dash: [] },
      { label: 'T (LPJ-GUESS)', rows: tLPJ, color: '#000000', width: 1.9, dash: DASH },
      { label: 'T (Validation)', rows: tVal, color: '#1f6ab4', width: 2.2, dash: DASHDOT },
    ],
  },
  {
    title: '(b) Evaporation Time Series', yLabel: 'Evaporation (mm/day)',
    yMin: 0, yMax: 0.7, yTicks: eTicks, fmt: (v) => v.toFixed(1), yTitlePad: 12.7,
    showX: false, xHeight: 0, padBottom: 17,
    sets: [
      { label: 'E (PF-LPJG)', rows: ePF, color: '#404040', width: 2.2, dash: [] },
      { label: 'E (LPJ-GUESS)', rows: eLPJ, color: '#ffa500', width: 1.9, dash: DASH },
      { label: 'E (Validation)', rows: eVal, color: '#c1272d', width: 2.2, dash: DASHDOT },
    ],
  },
  {
    title: '(c) T/E Ratio Time Series', yLabel: 'T/E Ratio',
    yMin: -2.15, yMax: 46.35, yTicks: teTicks, fmt: (v) => String(v), yTitlePad: 21.2,
    showX: true, xHeight: 80, padBottom: 0,
    sets: [
      { label: 'T/E (PF-LPJG)', rows: tePF, color: '#1f6ab4', width: 2.2, dash: [] },
      { label: 'T/E (LPJ-GUESS)', rows: teLPJ, color: '#000000', width: 1.9, dash: DASH },
      { label: 'T/E (Validation)', rows: teVal, color: '#c0102a', width: 2.2, dash: DASHDOT },
    ],
  },
];

// canvas placement (page px): chart areas at 63-495 / 569-1001 / 1075-1508
const placement = [
  { top: -28, height: 540 },
  { top: 478, height: 540 },
  { top: 984, height: 604 },
];

const LEGEND_FONT = 23;
const SPACER = 14;

function makeConfig(p: PanelSpec): any {
  const gridCommon = { display: true, drawTicks: false, color: GRID, lineWidth: 1.1 };
  return {
    type: 'line',
    data: {
      datasets: p.sets.map((s, i) => ({
        label: s.label,
        data: toPoints(s.rows),
        borderColor: s.color,
        backgroundColor: s.color,
        borderWidth: s.width,
        borderDash: s.dash,
        borderJoinStyle: 'round',
        pointRadius: 0,
        pointHoverRadius: 0,
        tension: 0,
        fill: false,
        order: p.sets.length - 1 - i,
      })),
    },
    options: {
      responsive: false,
      animation: false,
      events: [],
      layout: { padding: { left: 0, right: 22, top: 0, bottom: p.padBottom } },
      plugins: {
        tooltip: { enabled: false },
        legend: {
          display: true,
          position: 'top',
          align: 'center',
          fullSize: false,
          labels: {
            usePointStyle: true,
            pointStyle: 'line',
            pointStyleWidth: 47,
            padding: 44,
            color: TEXT,
            font: { size: LEGEND_FONT, family: FONT },
            generateLabels: (chart: any) =>
              chart.data.datasets.map((d: any, i: number) => ({
                text: d.label,
                fillStyle: d.borderColor,
                strokeStyle: d.borderColor,
                lineWidth: d.borderWidth,
                lineDash: d.borderDash || [],
                lineCap: 'butt',
                pointStyle: 'line',
                fontColor: TEXT,
                hidden: false,
                datasetIndex: i,
              })),
          },
        },
        panelTitle: { text: p.title },
      },
      scales: {
        x: {
          type: 'linear',
          position: 'bottom',
          min: X_MIN,
          max: X_MAX,
          bounds: 'data',
          afterBuildTicks: (s: any) => { s.ticks = yearTicks.map((v) => ({ value: v })); },
          afterFit: (s: any) => { s.height = p.xHeight; s.paddingLeft = 0; s.paddingRight = 0; },
          grid: gridCommon,
          border: { display: false, dash: [6, 3] },
          ticks: {
            display: p.showX, padding: 19, color: TEXT, font: { size: 19, family: FONT },
            maxRotation: 0, autoSkip: false, callback: (v: number) => String(v),
          },
          title: {
            display: p.showX, text: 'Time', color: TEXT, font: { size: 23, family: FONT },
            padding: { top: 0, bottom: 13 },
          },
        },
        x2: {
          type: 'linear',
          position: 'top',
          min: X_MIN,
          max: X_MAX,
          display: true,
          grid: { display: false, drawTicks: false },
          border: { display: false },
          ticks: { display: false },
          afterFit: (s: any) => { s.height = SPACER; s.paddingLeft = 0; s.paddingRight = 0; },
        },
        y: {
          type: 'linear',
          position: 'left',
          min: p.yMin,
          max: p.yMax,
          bounds: 'data',
          afterBuildTicks: (s: any) => { s.ticks = p.yTicks.map((v) => ({ value: v })); },
          afterFit: (s: any) => { s.width = 95; s.paddingTop = 0; s.paddingBottom = 0; },
          grid: gridCommon,
          border: { display: false, dash: [6, 3] },
          ticks: { padding: 17, color: TEXT, font: { size: 19, family: FONT }, callback: (v: number) => p.fmt(v) },
          title: {
            display: true, text: p.yLabel, color: TEXT, font: { size: 23, family: FONT },
            padding: { top: p.yTitlePad, bottom: 0 },
          },
        },
      },
    },
    plugins: [framePlugin, titlePlugin],
  };
}

export default function App() {
  const r0 = useRef<HTMLCanvasElement>(null);
  const r1 = useRef<HTMLCanvasElement>(null);
  const r2 = useRef<HTMLCanvasElement>(null);

  useEffect(() => {
    Chart.defaults.font.family = FONT;
    Chart.defaults.color = TEXT;
    const refs = [r0, r1, r2];
    const charts = refs.map((r, i) => new Chart(r.current as HTMLCanvasElement, makeConfig(panels[i])));
    return () => charts.forEach((c) => c.destroy());
  }, []);

  const refs = [r0, r1, r2];
  return (
    <div style={{ position: 'absolute', left: 0, top: 0, width: 1892, height: 1588, background: '#ffffff', overflow: 'hidden' }}>
      {placement.map((pl, i) => (
        <canvas
          key={i}
          ref={refs[i]}
          width={1892}
          height={pl.height}
          style={{ position: 'absolute', left: 0, top: pl.top, width: 1892, height: pl.height }}
        />
      ))}
    </div>
  );
}
